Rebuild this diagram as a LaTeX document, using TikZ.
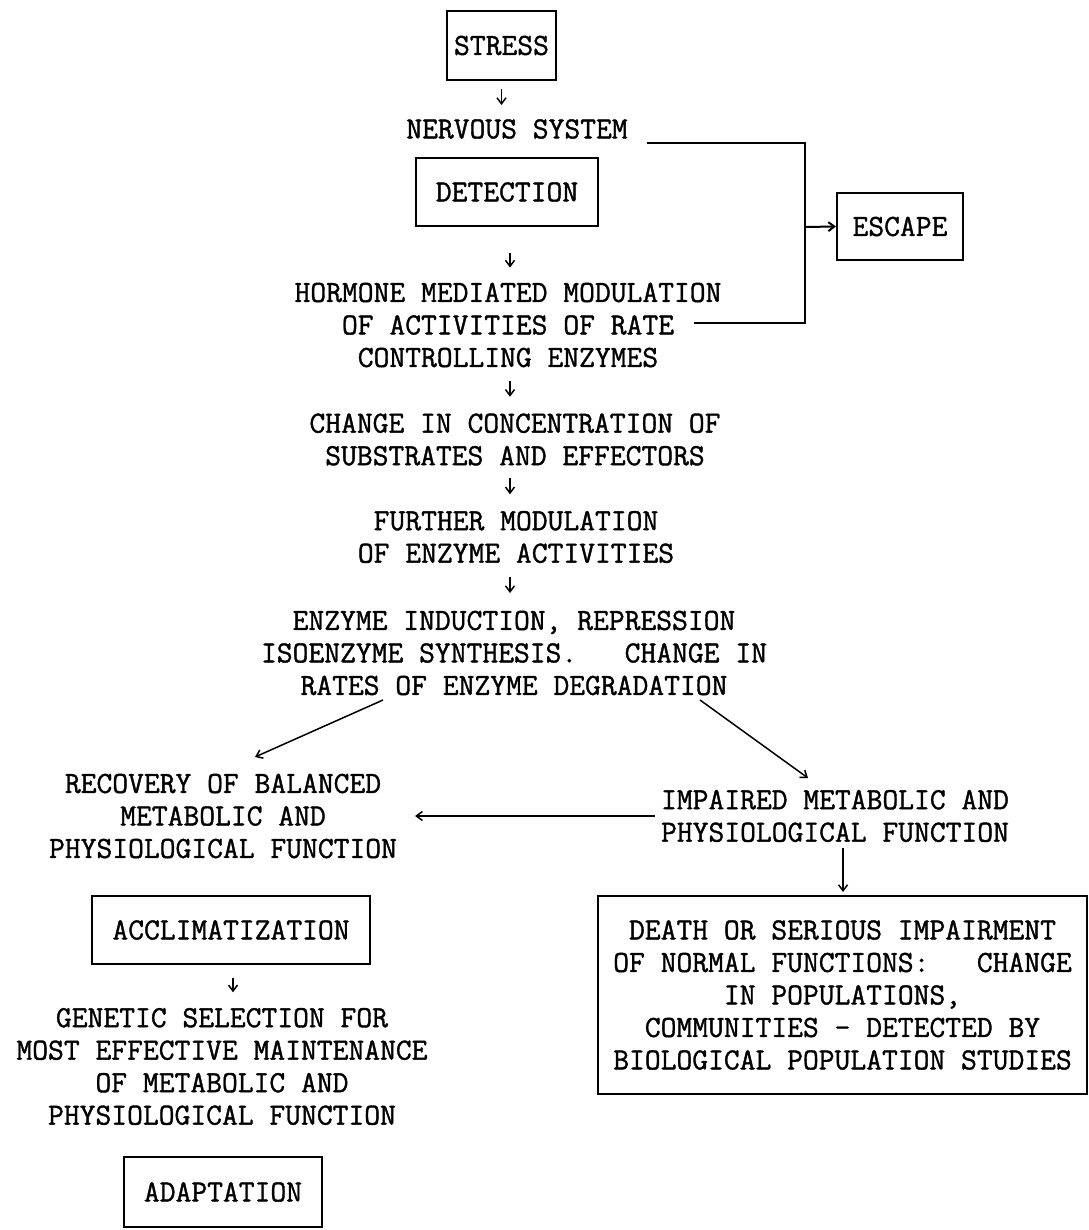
\documentclass[tikz,border=0pt]{standalone}
\usepackage{fontspec}
\newfontfamily\twfont{Latin Modern Mono}[FakeBold=1.2]
\usetikzlibrary{arrows.meta}
\begin{document}
\begin{tikzpicture}[x=1pt,y=-1pt,
  txt/.style={font=\fontsize{30.7}{32.5}\selectfont\twfont, align=center, inner sep=0pt},
  box/.style={txt, draw, line width=2pt},
  sarrow/.style={line width=1.5pt, -{Straight Barb[length=6pt,width=9pt]}},
  conn/.style={line width=2pt},
  carrow/.style={line width=2pt, -{Straight Barb[length=6pt,width=9pt]}}]
\useasboundingbox (0,0) rectangle (1088,1230);

\node[box, minimum width=109, minimum height=69] (stress) at (501.5,45.5) {STRESS};
\node[txt] (nerv) at (517,129) {NERVOUS SYSTEM};
\node[box, minimum width=182, minimum height=68] (det) at (507,192) {DETECTION};
\node[box, minimum width=126, minimum height=67] (esc) at (900,226.5) {ESCAPE};
\node[txt] (horm) at (508,325) {HORMONE MEDIATED MODULATION\\OF ACTIVITIES OF RATE\\CONTROLLING ENZYMES};
\node[txt] (conc) at (515,439.5) {CHANGE IN CONCENTRATION OF\\SUBSTRATES AND EFFECTORS};
\node[txt] (furt) at (516,537) {FURTHER MODULATION\\OF ENZYME ACTIVITIES};
\node[txt] (ind) at (514,653) {ENZYME INDUCTION, REPRESSION\\ISOENZYME SYNTHESIS.\ \ \ CHANGE IN\\RATES OF ENZYME DEGRADATION};
\node[txt] (rec) at (223,816) {RECOVERY OF BALANCED\\METABOLIC AND\\PHYSIOLOGICAL FUNCTION};
\node[txt] (imp) at (835,816) {IMPAIRED METABOLIC AND\\PHYSIOLOGICAL FUNCTION};
\node[box, minimum width=278, minimum height=68] (accl) at (231,930) {ACCLIMATIZATION};
\node[txt] (gen) at (222,1066.5) {GENETIC SELECTION FOR\\MOST EFFECTIVE MAINTENANCE\\OF METABOLIC AND\\PHYSIOLOGICAL FUNCTION};
\node[box, minimum width=198, minimum height=70] (adap) at (223,1192) {ADAPTATION};
\node[box, minimum width=489, minimum height=198] (death) at (842.5,995) {DEATH OR SERIOUS IMPAIRMENT\\OF NORMAL FUNCTIONS:\ \ \ CHANGE\\IN POPULATIONS,\\COMMUNITIES - DETECTED BY\\BIOLOGICAL POPULATION STUDIES};

% vertical small arrows
\draw[sarrow, shorten <=8pt, shorten >=14pt] (stress.south) -- (stress.south |- nerv.north);
\draw[sarrow, shorten <=26pt, shorten >=15pt] ([xshift=3pt]det.south) -- ([xshift=3pt]det.south |- horm.north);
\draw[sarrow, shorten <=13.5pt, shorten >=16.5pt] ([xshift=2pt]horm.south) -- ([xshift=2pt]horm.south |- conc.north);
\draw[sarrow, shorten <=12.5pt, shorten >=16.5pt] ([xshift=-5pt]conc.south) -- ([xshift=-5pt]conc.south |- furt.north);
\draw[sarrow, shorten <=13.5pt, shorten >=17.5pt] ([xshift=-6pt]furt.south) -- ([xshift=-6pt]furt.south |- ind.north);
\draw[sarrow, shorten <=13pt, shorten >=15.5pt] ([xshift=2pt]accl.south) -- ([xshift=2pt]accl.south |- gen.north);

% escape connector
\coordinate (n1) at (647,143);
\coordinate (j2) at (805,323);
\coordinate (h2) at (694,323);
\coordinate (j3) at (805,227);
\draw[conn] (n1) -| (j2) -- (h2);
\draw[carrow] (j3) -- (esc.west);

% diagonals
\coordinate (d1) at (383,700);
\coordinate (d2) at (255,757);
\coordinate (d3) at (700,700);
\coordinate (d4) at (808,778);
\draw[sarrow] (d1) -- (d2);
\draw[sarrow] (d3) -- (d4);

% impaired -> recovery
\draw[sarrow] ([xshift=-6pt]imp.west) -- ([xshift=18pt]rec.east);
% impaired -> death
\draw[sarrow, shorten <=6pt, shorten >=3pt] ([xshift=8pt]imp.south) -- ([xshift=8pt]imp.south |- death.north);
\end{tikzpicture}
\end{document}
